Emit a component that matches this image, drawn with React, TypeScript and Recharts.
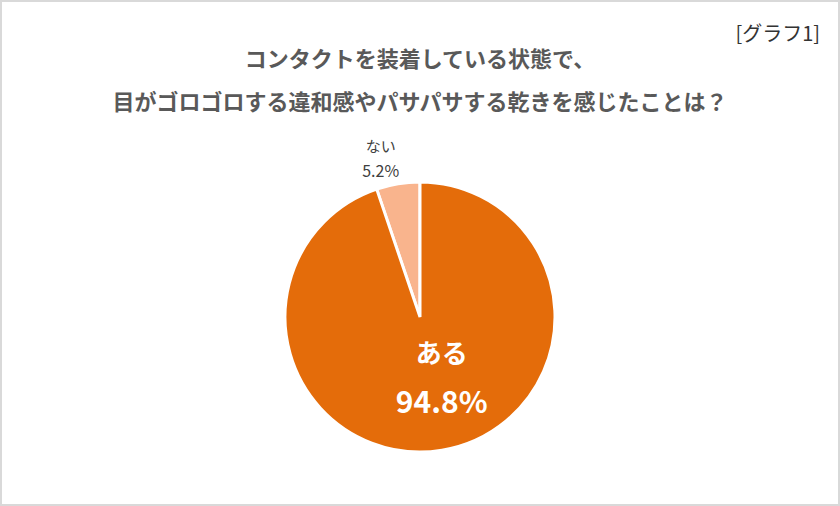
import React from 'react';
import { PieChart, Pie, Cell } from 'recharts';

const categories = ['ない', 'ある'];
const values = [5.2, 94.8];
const colors = ['#F9B48D', '#E46C0A'];

const titleLines = [
  'コンタクトを装着している状態で、',
  '目がゴロゴロする違和感やパサパサする乾きを感じたことは？',
];
const graphTag = '[グラフ1]';

const data = categories.map((name, i) => ({ name, value: values[i] }));

const RADIAN = Math.PI / 180;
const FONT = '"Noto Sans CJK JP", "Noto Sans", sans-serif';

const renderLabel = (props: any) => {
  const { cx, cy, midAngle, outerRadius, index, name, value } = props;
  const pct = `${value.toFixed(1)}%`;
  if (index === 1) {
    // inside label, white bold
    const r = outerRadius * 0.44;
    const x = cx + r * Math.cos(-midAngle * RADIAN) + 12;
    const y = cy + r * Math.sin(-midAngle * RADIAN);
    return (
      <g>
        <text x={x} y={y - 24} fill="#fff" textAnchor="middle" dominantBaseline="central"
          style={{ fontFamily: FONT, fontSize: 26, fontWeight: 700 }}>{name}</text>
        <text x={x} y={y + 24} fill="#fff" textAnchor="middle" dominantBaseline="central"
          style={{ fontFamily: FONT, fontSize: 30, fontWeight: 700 }}>{pct}</text>
      </g>
    );
  }
  const r = outerRadius + 27;
  const x = cx + r * Math.cos(-midAngle * RADIAN) - 13;
  const y = cy + r * Math.sin(-midAngle * RADIAN);
  return (
    <g>
      <text x={x} y={y - 12} fill="#404040" textAnchor="middle" dominantBaseline="central"
        style={{ fontFamily: FONT, fontSize: 15 }}>{name}</text>
      <text x={x} y={y + 13} fill="#404040" textAnchor="middle" dominantBaseline="central"
        style={{ fontFamily: FONT, fontSize: 16 }}>{pct}</text>
    </g>
  );
};

const App: React.FC = () => {
  return (
    <div
      style={{
        position: 'fixed',
        left: 0,
        top: 0,
        width: 840,
        height: 506,
        boxSizing: 'border-box',
        border: '2px solid #d9d9d9',
        background: '#fff',
        fontFamily: FONT,
      }}
    >
      <div style={{ position: 'absolute', right: 18, top: 16, fontSize: 20, color: '#333' }}>
        {graphTag}
      </div>
      {titleLines.map((line, i) => (
        <div
          key={i}
          style={{
            position: 'absolute',
            left: 0,
            width: 836,
            top: 42 + i * 43,
            textAlign: 'center',
            fontSize: 22,
            fontWeight: 700,
            color: '#595959',
            lineHeight: '26px',
          }}
        >
          {line}
        </div>
      ))}
      <div style={{ position: 'absolute', left: -2, top: -2 }}>
        <PieChart width={840} height={506} margin={{ top: 0, right: 0, bottom: 0, left: 0 }}>
          <Pie
            data={data}
            dataKey="value"
            nameKey="name"
            cx={420}
            cy={317}
            outerRadius={135}
            startAngle={90}
            endAngle={450}
            stroke="#fff"
            strokeWidth={3}
            label={renderLabel}
            labelLine={false}
            isAnimationActive={false}
          >
            {data.map((d, i) => (
              <Cell key={d.name} fill={colors[i]} />
            ))}
          </Pie>
        </PieChart>
      </div>
    </div>
  );
};

export default App;
